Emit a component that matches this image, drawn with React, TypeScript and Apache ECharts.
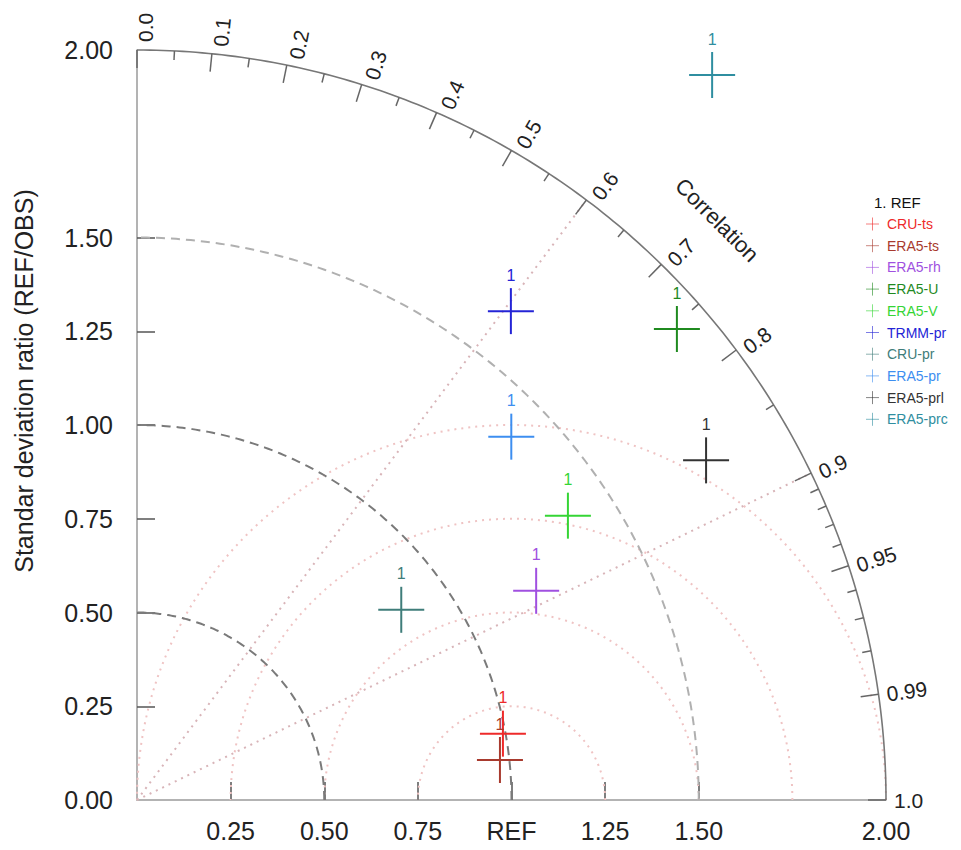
import React, { useEffect, useRef } from 'react';
import * as echarts from 'echarts';

// ---- data ----
const seriesNames = ['CRU-ts', 'ERA5-ts', 'ERA5-rh', 'ERA5-U', 'ERA5-V', 'TRMM-pr', 'CRU-pr', 'ERA5-pr', 'ERA5-prl', 'ERA5-prc'];
const seriesColors = ['#ee2a2a', '#a83a2e', '#a050e0', '#1f8a1f', '#35d535', '#2424d6', '#3f7d7a', '#3d8ef0', '#333333', '#2f8ea0'];
const stdRatio = [0.993, 0.975, 1.203, 1.912, 1.378, 1.642, 0.869, 1.392, 1.769, 2.469];
const correlation = [0.984, 0.994, 0.886, 0.754, 0.835, 0.608, 0.812, 0.718, 0.859, 0.622];

const xTickValues = [0.25, 0.5, 0.75, 1, 1.25, 1.5];
const xLabelValues = [0.25, 0.5, 0.75, 1, 1.25, 1.5, 2];
const yTickValues = [0.25, 0.5, 0.75, 1, 1.25, 1.5];
const yLabelValues = [0, 0.25, 0.5, 0.75, 1, 1.25, 1.5, 2];

const stdArcs = [0.5, 1.0, 1.5];
const rmsArcs = [0.25, 0.5, 0.75, 1.0];
const ccRays = [0.6, 0.9];
const outerRadius = 2;
const corrMajor = [0, 0.1, 0.2, 0.3, 0.4, 0.5, 0.6, 0.7, 0.8, 0.9, 0.95, 0.99, 1.0];
const corrLabels = ['0.0', '0.1', '0.2', '0.3', '0.4', '0.5', '0.6', '0.7', '0.8', '0.9', '0.95', '0.99', '1.0'];
const corrMinor = [0.05, 0.15, 0.25, 0.35, 0.45, 0.55, 0.65, 0.75, 0.85, 0.91, 0.92, 0.93, 0.94, 0.96, 0.97, 0.98];

const FONT = 'Liberation Sans, Arial, Helvetica, sans-serif';

export default function App() {
  const ref = useRef<HTMLDivElement>(null);
  useEffect(() => {
    if (!ref.current) return;
    const chart = echarts.init(ref.current, undefined, { renderer: 'svg' });

    const arcPoints = (api: any, cx: number, R: number, a0: number, a1: number) => {
      const pts: number[][] = [];
      const n = 180;
      for (let i = 0; i <= n; i++) {
        const a = a0 + (a1 - a0) * (i / n);
        pts.push(api.coord([cx + R * Math.cos(a), R * Math.sin(a)]));
      }
      return pts;
    };

    const legendChildren: any[] = [
      { type: 'text', x: 874, y: 202, style: { text: '1. REF', fill: '#111', fontSize: 15, fontFamily: FONT, align: 'left', verticalAlign: 'middle' } },
    ];
    seriesNames.forEach((nm, i) => {
      const y = 224 + i * 21.7;
      legendChildren.push({ type: 'line', shape: { x1: 866, y1: y, x2: 879, y2: y }, style: { stroke: seriesColors[i], lineWidth: 1, opacity: 0.6 } });
      legendChildren.push({ type: 'line', shape: { x1: 872.5, y1: y - 6.5, x2: 872.5, y2: y + 6.5 }, style: { stroke: seriesColors[i], lineWidth: 1, opacity: 0.6 } });
      legendChildren.push({ type: 'text', x: 887, y, style: { text: nm, fill: seriesColors[i], fontSize: 14, fontFamily: FONT, align: 'left', verticalAlign: 'middle' } });
    });

    const option: any = {
      animation: false,
      grid: { left: 137, top: 50, right: 75, bottom: 50, containLabel: false },
      xAxis: {
        type: 'value', min: 0, max: 2, interval: 0.25,
        axisLine: { show: true, lineStyle: { color: '#9a9a9a', width: 1.5 } },
        axisTick: { show: true, inside: true, length: 18, customValues: xTickValues, lineStyle: { color: '#555', width: 1.5 } },
        axisLabel: {
          customValues: xLabelValues, margin: 18, fontSize: 25, fontFamily: FONT, color: '#222',
          formatter: (v: number) => (Math.abs(v - 1) < 1e-9 ? 'REF' : v.toFixed(2)),
        },
        splitLine: { show: false },
      },
      yAxis: {
        type: 'value', min: 0, max: 2, interval: 0.25,
        axisLine: { show: true, lineStyle: { color: '#9a9a9a', width: 1.5 } },
        axisTick: { show: true, inside: true, length: 18, customValues: yTickValues, lineStyle: { color: '#555', width: 1.5 } },
        axisLabel: {
          customValues: yLabelValues, margin: 24, fontSize: 25, fontFamily: FONT, color: '#222',
          formatter: (v: number) => v.toFixed(2),
        },
        splitLine: { show: false },
      },
      graphic: [
        { type: 'text', x: 24, y: 381, rotation: Math.PI / 2, style: { text: 'Standar deviation ratio (REF/OBS)', fill: '#222', fontSize: 25, fontFamily: FONT, align: 'center', verticalAlign: 'middle' } },
        { type: 'text', x: 717, y: 220, rotation: -Math.PI / 4, style: { text: 'Correlation', fill: '#222', fontSize: 22, fontFamily: FONT, align: 'center', verticalAlign: 'middle' } },
        { type: 'group', children: legendChildren },
      ],
      series: [
        // RMS difference arcs centred on REF
        {
          type: 'custom', name: 'rms', clip: false, silent: true, z: 1,
          data: rmsArcs.map((r) => [r, 0]),
          renderItem: (params: any, api: any) => {
            const R = api.value(0);
            return { type: 'polyline', shape: { points: arcPoints(api, 1, R, 0, Math.PI) }, style: { stroke: '#efc3c3', fill: 'none', lineWidth: 2, lineDash: [2, 5] } };
          },
        },
        // correlation rays
        {
          type: 'custom', name: 'rays', clip: false, silent: true, z: 1,
          data: ccRays.map((c) => [c, 0]),
          renderItem: (params: any, api: any) => {
            const th = Math.acos(api.value(0));
            const p0 = api.coord([0, 0]);
            const p1 = api.coord([outerRadius * Math.cos(th), outerRadius * Math.sin(th)]);
            return { type: 'line', shape: { x1: p0[0], y1: p0[1], x2: p1[0], y2: p1[1] }, style: { stroke: '#d8b4b8', lineWidth: 2, lineDash: [2, 5] } };
          },
        },
        // std deviation arcs
        {
          type: 'custom', name: 'std', clip: false, silent: true, z: 2,
          data: stdArcs.map((r) => [r, 0]),
          renderItem: (params: any, api: any) => {
            const R = api.value(0);
            const col = R === 1.5 ? '#b0b0b0' : '#7a7a7a';
            return { type: 'polyline', shape: { points: arcPoints(api, 0, R, 0, Math.PI / 2) }, style: { stroke: col, fill: 'none', lineWidth: 2, lineDash: [9, 6] } };
          },
        },
        // outer correlation arc
        {
          type: 'custom', name: 'outer', clip: false, silent: true, z: 3,
          data: [[outerRadius, 0]],
          renderItem: (params: any, api: any) => {
            const R = api.value(0);
            return { type: 'polyline', shape: { points: arcPoints(api, 0, R, 0, Math.PI / 2) }, style: { stroke: '#777', fill: 'none', lineWidth: 1.6 } };
          },
        },
        // correlation ticks
        {
          type: 'custom', name: 'ticks', clip: false, silent: true, z: 3,
          data: corrMajor.map((c) => [c, 1]).concat(corrMinor.map((c) => [c, 0])),
          renderItem: (params: any, api: any) => {
            const c = api.value(0);
            const major = api.value(1) === 1;
            const th = Math.acos(c);
            const p = api.coord([outerRadius * Math.cos(th), outerRadius * Math.sin(th)]);
            const L = major ? 18 : 9;
            return { type: 'line', shape: { x1: p[0], y1: p[1], x2: p[0] - L * Math.cos(th), y2: p[1] + L * Math.sin(th) }, style: { stroke: '#666', lineWidth: 1.5 } };
          },
        },
        // correlation labels
        {
          type: 'custom', name: 'corrLabels', clip: false, silent: true, z: 3,
          data: corrMajor.map((c, i) => [c, i]),
          renderItem: (params: any, api: any) => {
            const c = api.value(0);
            const i = api.value(1);
            const th = Math.acos(c);
            const p = api.coord([outerRadius * Math.cos(th), outerRadius * Math.sin(th)]);
            const off = 8;
            const sh = 8 * Math.sin(th);
            const x = p[0] + off * Math.cos(th) + sh * Math.sin(th);
            const y = p[1] - off * Math.sin(th) + sh * Math.cos(th);
            return { type: 'text', x, y, rotation: th, style: { text: corrLabels[i], fill: '#222', fontSize: 21, fontFamily: FONT, align: 'left', verticalAlign: 'middle' } };
          },
        },
        // model points
        {
          type: 'custom', name: 'models', clip: false, z: 10,
          data: stdRatio.map((r, i) => [r, correlation[i], i]),
          encode: { x: 0, y: 1 },
          renderItem: (params: any, api: any) => {
            const r = api.value(0);
            const c = api.value(1);
            const i = api.value(2);
            const th = Math.acos(c);
            const p = api.coord([r * Math.cos(th), r * Math.sin(th)]);
            const col = seriesColors[i];
            const h = 23;
            return {
              type: 'group',
              children: [
                { type: 'line', shape: { x1: p[0] - h, y1: p[1], x2: p[0] + h, y2: p[1] }, style: { stroke: col, lineWidth: 2 } },
                { type: 'line', shape: { x1: p[0], y1: p[1] - h, x2: p[0], y2: p[1] + h }, style: { stroke: col, lineWidth: 2 } },
                { type: 'text', x: p[0], y: p[1] - 36, style: { text: '1', fill: col, fontSize: 16, fontFamily: FONT, align: 'center', verticalAlign: 'middle' } },
              ],
            };
          },
        },
      ],
    };
    chart.setOption(option);
    return () => chart.dispose();
  }, []);
  return <div ref={ref} style={{ position: 'fixed', left: 0, top: 0, width: 961, height: 850, background: '#fff' }} />;
}
